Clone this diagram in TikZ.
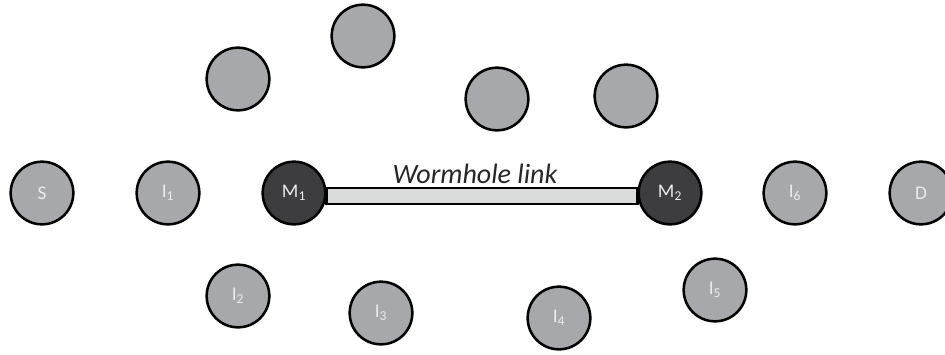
\documentclass[tikz,border=0pt]{standalone}
\usepackage{fontspec}
\setmainfont{Carlito}
\usetikzlibrary{shapes}

\definecolor{nodegray}{RGB}{166,168,171}
\definecolor{nodedark}{RGB}{61,61,63}
\definecolor{linkgray}{RGB}{218,219,219}
\definecolor{labelgray}{RGB}{235,235,235}

\newcommand{\nsub}[1]{\textsubscript{#1}}

\tikzset{
  honest/.style={circle, draw=black, line width=1.9pt, fill=nodegray, minimum size=47pt, inner sep=0pt, text=labelgray, font=\fontsize{14.5}{16}\selectfont},
  malicious/.style={honest, fill=nodedark}
}

\begin{document}
\begin{tikzpicture}[x=0.75pt,y=0.75pt,yscale=-1,xscale=1]
\useasboundingbox (0,0) rectangle (945,354);

%Shape: Circle (middle row)
\node [honest] (S) at (42,193) {S};
\node [honest] (I1) at (168,193) {I\nsub{1}};
\node [malicious] (M1) at (294,193) {M\nsub{1}};
\node [malicious] (M2) at (670,193) {M\nsub{2}};
\node [honest] (I6) at (795,193) {I\nsub{6}};
\node [honest] (D) at (921,193) {D};

%Shape: Circle (upper row)
\node [honest] (U1) at (238,79) {};
\node [honest] (U2) at (363,36) {};
\node [honest] (U3) at (497,99) {};
\node [honest] (U4) at (626,96) {};

%Shape: Circle (lower row)
\node [honest] (I2) at (238,296) {I\nsub{2}};
\node [honest] (I3) at (381,313) {I\nsub{3}};
\node [honest] (I4) at (559,318) {I\nsub{4}};
\node [honest] (I5) at (715,290) {I\nsub{5}};

%Shape: Rectangle (wormhole link)
\draw [draw=black, line width=1.7pt, fill=linkgray] ([yshift=-3.75pt]M1.east) rectangle ([yshift=8.25pt]M2.west);

%Text
\node [anchor=base, font=\itshape\fontsize{21}{24}\selectfont, text=black!85] (wlabel) at (475,183) {Wormhole link};

\end{tikzpicture}
\end{document}
